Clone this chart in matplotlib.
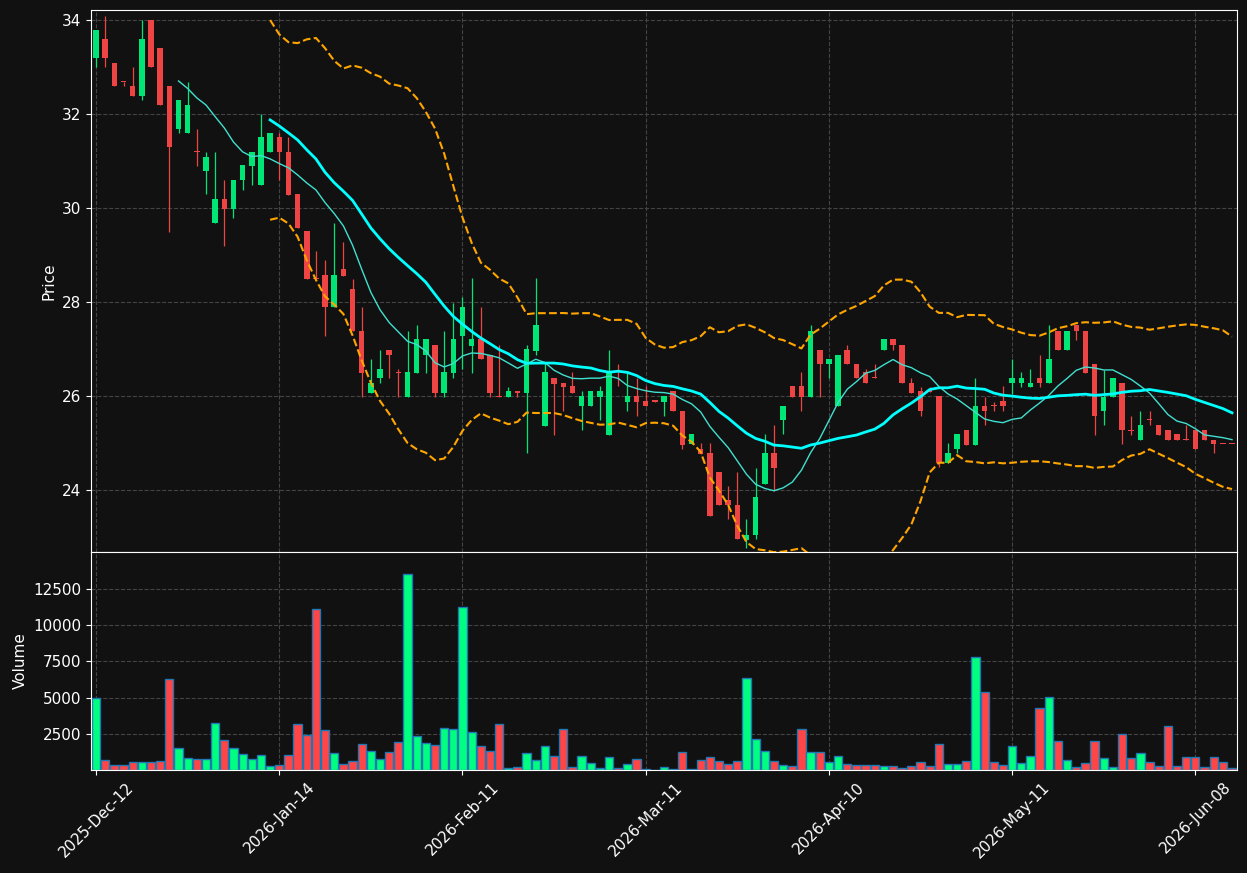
import numpy as np
import pandas as pd
import matplotlib
matplotlib.use("Agg")
import matplotlib.pyplot as plt

# OHLC per trading day (index 0 = 2025-Dec-12)
opens = [33.19, 33.60, 33.09, 32.68, 32.60, 32.37, 34.00, 33.39, 32.60, 31.67,
         31.59, 31.19, 30.78, 29.67, 30.19, 29.97, 30.59, 30.88, 30.48, 31.19,
         31.50, 31.19, 30.30, 29.50, 28.50, 28.58, 27.89, 28.69, 28.28, 27.39,
         26.07, 26.37, 26.98, 26.49, 25.98, 26.48, 26.87, 27.09, 26.07, 26.48,
         27.27, 27.07, 27.20, 26.87, 25.99, 25.98, 26.08, 26.07, 26.96, 25.37,
         26.39, 26.28, 26.20, 25.78, 25.78, 25.98, 25.16, 26.51, 25.87, 25.99,
         25.90, 25.89, 25.87, 26.10, 25.68, 24.97, 24.88, 24.79, 24.39, 23.79,
         23.69, 22.93, 23.04, 24.12, 24.79, 25.48, 26.20, 26.20, 25.98, 26.98,
         26.68, 25.78, 26.98, 26.68, 26.50, 26.39, 26.98, 27.20, 27.09, 26.28,
         26.10, 26.10, 25.99, 24.58, 24.87, 25.27, 24.96, 25.79, 25.79, 25.89,
         26.27, 26.27, 26.19, 26.39, 26.27, 27.39, 26.98, 27.50, 27.39, 26.68,
         25.68, 25.98, 26.28, 25.27, 25.07, 25.49, 25.39, 25.27, 25.18, 25.07,
         25.27, 25.27, 25.07, 24.98, 24.98]
highs = [33.79, 34.09, 33.09, 32.68, 33.00, 34.00, 34.00, 33.39, 32.60, 32.30,
         32.68, 31.68, 31.19, 31.19, 30.60, 30.60, 30.90, 31.19, 32.00, 31.60,
         31.59, 31.50, 30.30, 29.50, 29.09, 28.89, 29.68, 29.27, 28.48, 27.89,
         26.79, 26.98, 26.98, 26.57, 27.39, 27.50, 27.20, 27.09, 27.39, 27.98,
         28.11, 28.50, 27.89, 26.87, 27.09, 26.19, 26.08, 27.09, 28.50, 26.70,
         26.39, 26.28, 26.50, 26.10, 26.10, 26.20, 26.98, 26.68, 26.48, 26.39,
         26.20, 25.89, 25.99, 26.10, 25.68, 25.18, 24.99, 24.99, 24.39, 24.09,
         24.39, 23.39, 24.47, 25.18, 25.39, 25.79, 26.20, 26.50, 27.50, 26.98,
         26.79, 26.87, 27.09, 26.68, 26.57, 26.68, 27.20, 27.20, 27.09, 26.39,
         26.19, 26.19, 25.99, 24.99, 25.18, 25.27, 26.39, 25.98, 25.88, 26.20,
         26.78, 26.50, 26.57, 26.87, 27.50, 27.39, 27.39, 27.50, 27.39, 26.68,
         26.56, 26.39, 26.28, 25.57, 25.68, 25.68, 25.39, 25.27, 25.18, 25.39,
         25.27, 25.27, 25.07, 24.98, 24.98]
lows = [33.00, 33.00, 32.59, 32.59, 32.37, 32.30, 32.99, 32.19, 29.48, 31.59,
        31.59, 30.89, 30.30, 29.67, 29.19, 29.78, 30.37, 30.48, 30.48, 31.19,
        30.59, 30.28, 29.58, 28.48, 28.48, 27.27, 27.89, 28.56, 27.39, 25.98,
        26.07, 26.27, 26.39, 25.98, 25.98, 26.48, 26.48, 25.98, 25.98, 26.39,
        26.58, 26.48, 26.78, 25.98, 25.98, 25.98, 25.98, 24.78, 26.87, 25.37,
        25.16, 25.68, 26.07, 25.27, 25.78, 25.48, 25.16, 26.20, 25.68, 25.57,
        25.78, 25.88, 25.57, 25.67, 24.87, 24.97, 24.76, 23.44, 23.67, 23.39,
        22.96, 22.76, 22.96, 24.12, 23.98, 25.18, 25.98, 25.68, 25.98, 25.98,
        26.39, 25.78, 26.68, 26.39, 26.27, 26.38, 26.98, 26.98, 26.27, 26.07,
        25.57, 26.09, 24.48, 24.58, 24.78, 24.96, 24.96, 25.39, 25.68, 25.68,
        26.04, 26.19, 26.19, 26.19, 26.27, 26.98, 26.98, 27.19, 26.48, 25.16,
        25.39, 25.98, 24.98, 25.16, 25.07, 25.39, 25.16, 25.07, 25.07, 25.06,
        24.87, 25.07, 24.78, 24.97, 24.97]
closes = [33.79, 33.19, 32.59, 32.67, 32.37, 33.60, 32.99, 32.19, 31.29, 32.30,
          32.19, 31.18, 31.09, 30.19, 29.97, 30.60, 30.90, 31.19, 31.50, 31.60,
          31.19, 30.28, 29.58, 28.48, 28.49, 27.89, 28.58, 28.56, 27.39, 26.48,
          26.28, 26.58, 26.87, 26.48, 26.50, 27.20, 27.20, 26.07, 26.50, 27.20,
          27.90, 27.20, 26.78, 26.07, 25.98, 26.10, 26.07, 26.99, 27.50, 26.50,
          26.26, 26.19, 26.07, 25.99, 26.10, 26.10, 26.50, 26.50, 25.99, 25.87,
          25.78, 25.88, 25.99, 25.67, 24.96, 25.18, 24.76, 23.44, 23.67, 23.67,
          22.96, 23.04, 23.85, 24.79, 24.47, 25.79, 25.98, 25.98, 27.39, 26.68,
          26.79, 26.87, 26.68, 26.39, 26.27, 26.38, 27.20, 27.09, 26.27, 26.07,
          25.68, 26.09, 24.58, 24.79, 25.18, 24.96, 25.79, 25.67, 25.78, 25.78,
          26.39, 26.39, 26.28, 26.27, 26.79, 26.98, 27.39, 27.39, 26.48, 25.57,
          25.98, 26.39, 25.27, 25.26, 25.39, 25.48, 25.16, 25.07, 25.07, 25.06,
          24.87, 25.07, 24.98, 24.97, 24.97]
volumes = [4950, 690, 340, 340, 550, 550, 550, 620, 6260, 1510,
           830, 760, 760, 3230, 2060, 1510, 1100, 760, 1030, 280,
           340, 1030, 3170, 2430, 11150, 2750, 1170, 410, 620, 1790,
           1310, 760, 1240, 1930, 13560, 2340, 1860, 1720, 2890, 2820,
           11280, 2620, 1650, 1310, 3170, 120, 210, 1170, 690, 1650,
           960, 2820, 210, 960, 480, 120, 890, 120, 410, 760,
           70, 20, 210, 70, 1240, 70, 690, 890, 620, 410,
           620, 6330, 2130, 1310, 620, 340, 280, 2820, 1240, 1240,
           550, 960, 410, 340, 340, 340, 280, 280, 140, 280,
           550, 280, 1790, 410, 410, 620, 7840, 5370, 550, 340,
           1650, 480, 960, 4270, 5020, 2000, 690, 210, 480, 2000,
           830, 210, 2480, 830, 1170, 550, 280, 3030, 280, 890,
           890, 210, 890, 550, 120]
tick_labels = ["2025-Dec-12", "2026-Jan-14", "2026-Feb-11", "2026-Mar-11",
               "2026-Apr-10", "2026-May-11", "2026-Jun-08"]
tick_step = 20

BG = "#111111"
UP, DOWN = "#00e676", "#ef4444"
VOL_UP, VOL_DOWN = "#00ff80", "#ff4545"
GRID = dict(color="#444444", linestyle="--", linewidth=0.8)

o, h, l, c = (np.array(v) for v in (opens, highs, lows, closes))
x = np.arange(len(c))
rising = c > o

fig = plt.figure(figsize=(12.47, 8.73), dpi=100, facecolor=BG)
ax = fig.add_axes([0.073, 0.3677, 0.919, 0.621])
axv = fig.add_axes([0.073, 0.118, 0.919, 0.2497], sharex=ax)

# candles
ax.vlines(x, l, h, colors=np.where(rising, UP, DOWN), linewidth=0.9, zorder=2)
ax.bar(x, np.maximum(np.abs(c - o), 0.025), bottom=np.minimum(o, c), width=0.6,
       color=np.where(rising, UP, DOWN), zorder=3)

# moving averages and bollinger bands
s = pd.Series(c)
ma10 = s.rolling(10).mean()
ma20 = s.rolling(20).mean()
sd20 = s.rolling(20).std(ddof=0)
ax.plot(x, ma10, color="#40e0d0", linewidth=1.0, zorder=4)
ax.plot(x, ma20, color="#00ffff", linewidth=2.0, zorder=4)
ax.plot(x, ma20 + 2 * sd20, color="#ffa500", linewidth=1.5, linestyle="--", zorder=4)
ax.plot(x, ma20 - 2 * sd20, color="#ffa500", linewidth=1.5, linestyle="--", zorder=4)

# volume
axv.bar(x, volumes, width=0.9, color=np.where(rising, VOL_UP, VOL_DOWN),
        edgecolor="#1f77b4", linewidth=1.0)

ax.set_xlim(-0.55, len(c) - 0.45)
ax.set_ylim(22.68, 34.21)
axv.set_ylim(0, 15070)
axv.set_yticks([2500, 5000, 7500, 10000, 12500])
axv.set_xticks(np.arange(0, len(c), tick_step))
axv.set_xticklabels(tick_labels, rotation=45)
ax.tick_params(labelbottom=False)

for a, label in ((ax, "Price"), (axv, "Volume")):
    a.set_facecolor(BG)
    a.grid(True, **GRID)
    a.set_axisbelow(True)
    a.set_ylabel(label, color="white", fontsize=11)
    a.tick_params(colors="white", labelsize=11)
    for sp in a.spines.values():
        sp.set_color("white")

fig.savefig("out.png", dpi=100, facecolor=BG)
